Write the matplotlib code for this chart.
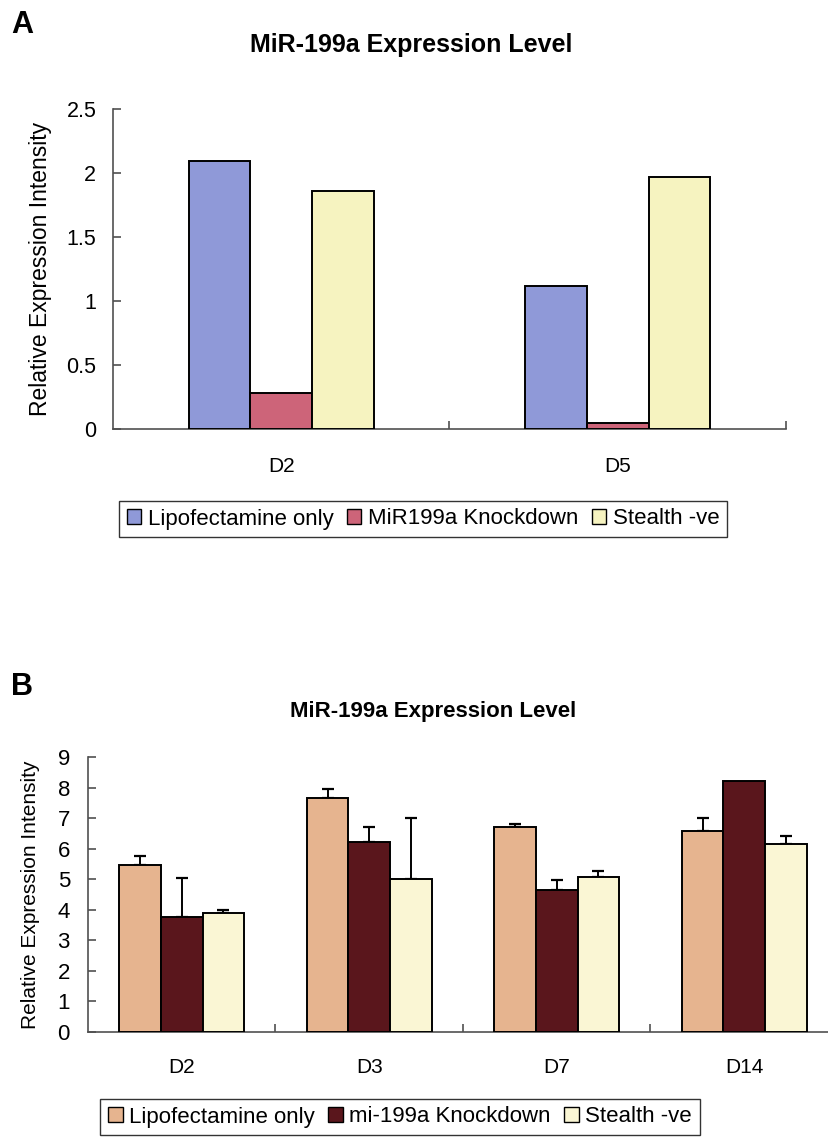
import numpy as np
import matplotlib
matplotlib.use("Agg")
import matplotlib.pyplot as plt
from matplotlib.patches import Patch

plt.rcParams['font.family'] = ['Liberation Sans', 'DejaVu Sans']

# ---------------- Data: panel A ----------------
a_categories = ["D2", "D5"]
a_series = ["Lipofectamine only", "MiR199a Knockdown", "Stealth -ve"]
a_lipo = [2.09, 1.12]
a_knock = [0.28, 0.05]
a_stealth = [1.86, 1.97]
a_yticks = [0, 0.5, 1, 1.5, 2, 2.5]
a_yticklabels = ["0", "0.5", "1", "1.5", "2", "2.5"]

# ---------------- Data: panel B ----------------
b_categories = ["D2", "D3", "D7", "D14"]
b_series = ["Lipofectamine only", "mi-199a Knockdown", "Stealth -ve"]
b_lipo = [5.48, 7.66, 6.71, 6.59]
b_lipo_err = [0.29, 0.28, 0.10, 0.42]
b_knock = [3.78, 6.23, 4.64, 8.20]
b_knock_err = [1.25, 0.47, 0.35, 0.0]
b_stealth = [3.89, 5.02, 5.08, 6.14]
b_stealth_err = [0.10, 2.00, 0.19, 0.29]
b_yticks = [0, 1, 2, 3, 4, 5, 6, 7, 8, 9]

a_colors = ["#8f99d8", "#cd6479", "#f6f3c0"]
b_colors = ["#e6b48f", "#5a161c", "#faf6d4"]

W, H = 829, 1137
fig = plt.figure(figsize=(W / 100, H / 100), dpi=100)
fig.patch.set_facecolor("white")

def ax_rect(x0, y0, x1, y1):
    return [x0 / W, 1 - y1 / H, (x1 - x0) / W, (y1 - y0) / H]

AXCOL = "#505050"

def style_axes(ax, ncat, tick_fs, xlab_fs, ypad, xpad):
    for s in ["top", "right"]:
        ax.spines[s].set_visible(False)
    for s in ["left", "bottom"]:
        ax.spines[s].set_color(AXCOL)
        ax.spines[s].set_linewidth(1.2)
    ax.tick_params(axis="y", direction="in", length=6, width=1.2, color=AXCOL,
                   pad=ypad, labelsize=tick_fs)
    ax.set_xticks(np.arange(ncat))
    ax.set_xticks(np.arange(ncat) + 0.5, minor=True)
    ax.tick_params(axis="x", which="major", length=0, pad=xpad, labelsize=xlab_fs)
    ax.tick_params(axis="x", which="minor", direction="in", length=6, width=1.2,
                   color=AXCOL)
    ax.set_xlim(-0.5, ncat - 0.5)

# ---------------- Panel A ----------------
axA = fig.add_axes(ax_rect(113, 109, 786, 429))
wA = 0.183
xa = np.arange(len(a_categories))
for i, (vals, col) in enumerate(zip([a_lipo, a_knock, a_stealth], a_colors)):
    axA.bar(xa + (i - 1) * wA, vals, width=wA, color=col, edgecolor="black",
            linewidth=1.4, zorder=3)
axA.set_ylim(0, 2.5)
axA.set_yticks(a_yticks)
axA.set_yticklabels(a_yticklabels)
style_axes(axA, len(a_categories), 15.5, 15, 12, 20)
axA.set_xticklabels(a_categories)
axA.set_ylabel("Relative Expression Intensity", fontsize=16.5)
axA.yaxis.set_label_coords((52 - 113) / 673, 0.5)

handlesA = [Patch(facecolor=c, edgecolor="black", linewidth=1.0) for c in a_colors]
legA = fig.legend(handlesA, a_series, loc="center", bbox_to_anchor=(423 / W, 1 - 519 / H),
                  ncol=3, fontsize=16, frameon=True, fancybox=False, handlelength=0.65,
                  handleheight=0.65, handletextpad=0.3, columnspacing=0.6,
                  borderpad=0.35, edgecolor="black")
legA.get_frame().set_linewidth(1.0)

fig.text(411 / W, 1 - 45 / H, "MiR-199a Expression Level", ha="center", va="center",
         fontsize=18, fontweight="bold")
fig.text(22 / W, 1 - 25 / H, "A", ha="center", va="center", fontsize=22,
         fontweight="bold")

# ---------------- Panel B ----------------
axB = fig.add_axes(ax_rect(88, 757, 838, 1032))
wB = 0.222
xb = np.arange(len(b_categories))
for i, (vals, errs, col) in enumerate(zip([b_lipo, b_knock, b_stealth],
                                          [b_lipo_err, b_knock_err, b_stealth_err],
                                          b_colors)):
    axB.bar(xb + (i - 1) * wB, vals, width=wB, color=col, edgecolor="black",
            linewidth=1.4, zorder=3)
    errs_arr = np.array(errs)
    mask = errs_arr > 0
    axB.errorbar((xb + (i - 1) * wB)[mask], np.array(vals)[mask],
                 yerr=[np.zeros(mask.sum()), errs_arr[mask]], fmt="none",
                 ecolor="black", elinewidth=1.4, capsize=4, capthick=1.6, zorder=2)
axB.set_ylim(0, 9)
axB.set_yticks(b_yticks)
style_axes(axB, len(b_categories), 16, 15, 13, 19)
axB.set_xticklabels(b_categories)
axB.set_ylabel("Relative Expression Intensity", fontsize=15)
axB.yaxis.set_label_coords((40 - 88) / 750, 0.5)

handlesB = [Patch(facecolor=c, edgecolor="black", linewidth=1.0) for c in b_colors]
legB = fig.legend(handlesB, b_series, loc="center", bbox_to_anchor=(400 / W, 1 - 1117 / H),
                  ncol=3, fontsize=16, frameon=True, fancybox=False, handlelength=0.65,
                  handleheight=0.65, handletextpad=0.3, columnspacing=0.6,
                  borderpad=0.35, edgecolor="black")
legB.get_frame().set_linewidth(1.0)

fig.text(433 / W, 1 - 711 / H, "MiR-199a Expression Level", ha="center", va="center",
         fontsize=16, fontweight="bold")
fig.text(22 / W, 1 - 687 / H, "B", ha="center", va="center", fontsize=22,
         fontweight="bold")

fig.savefig("out.png", dpi=100, facecolor="white")
